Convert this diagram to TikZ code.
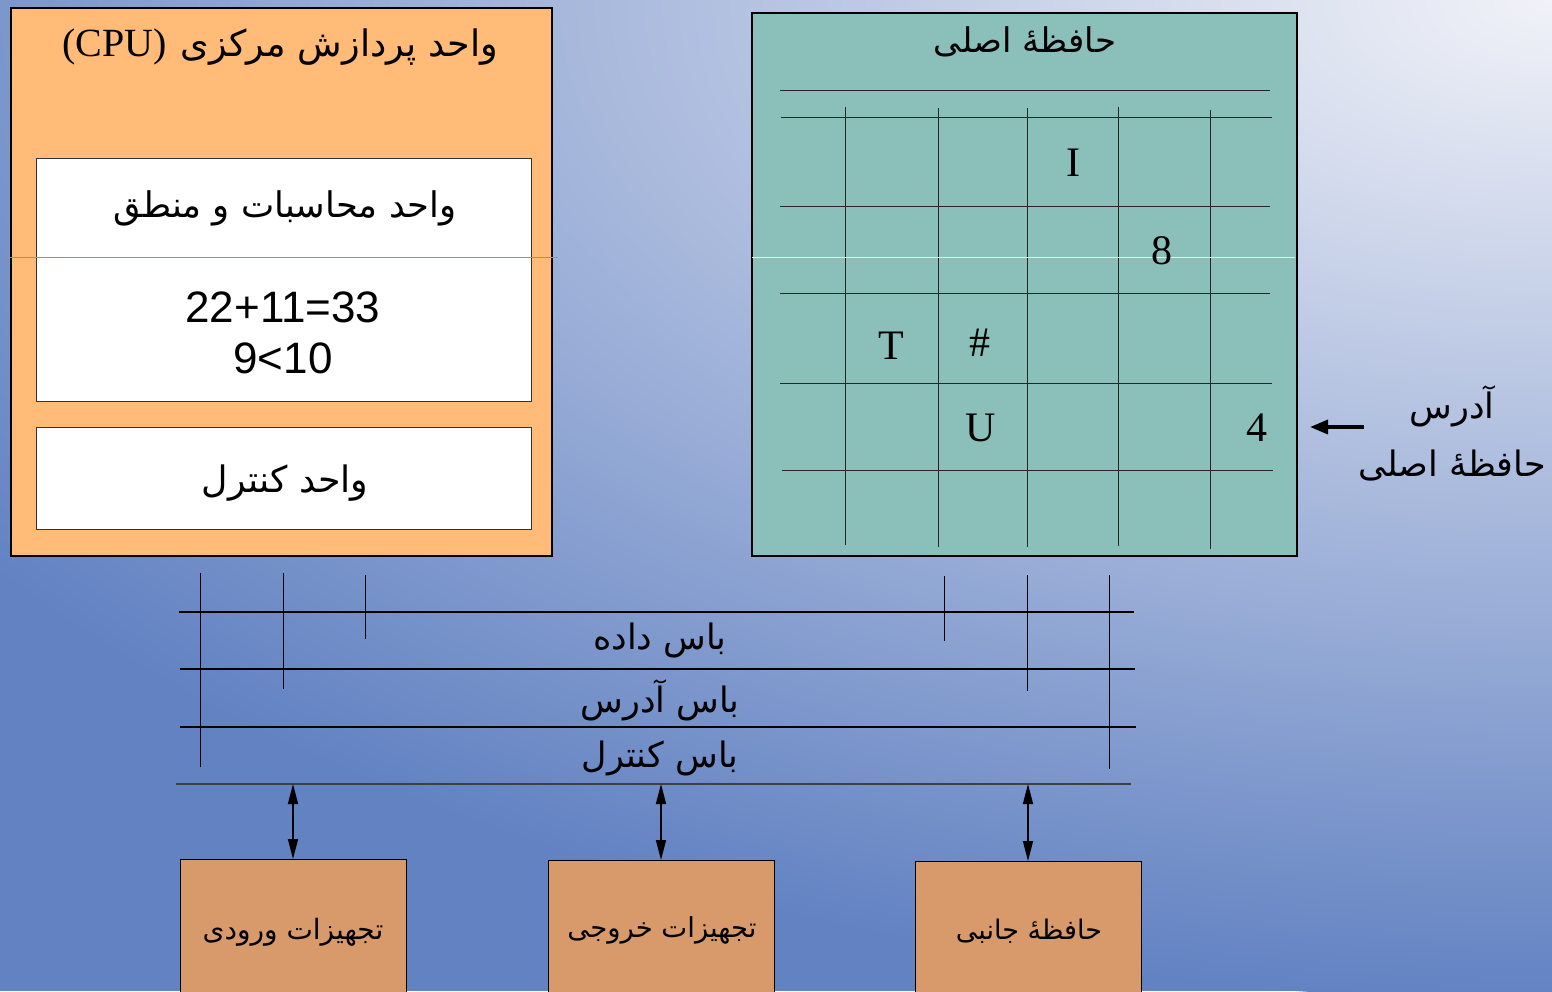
\documentclass[tikz,border=0pt]{standalone}
\usepackage{fontspec}
\usetikzlibrary{arrows.meta}
\TeXXeTstate=1
\newfontfamily\arfont[Script=Arabic]{DejaVu Sans}
\newfontfamily\tnr{Liberation Serif}
\newfontfamily\ari{Liberation Sans}
\definecolor{bgin}{HTML}{F1F2F8}
\definecolor{bgout}{HTML}{6282C2}
\definecolor{cpufill}{HTML}{FFBB77}
\definecolor{memfill}{HTML}{8BBFBA}
\definecolor{devfill}{HTML}{D89A6A}
\tikzset{
  outerbox/.style={draw=black, line width=1.5pt, inner sep=0pt},
  whitebox/.style={draw=black!80, line width=1pt, fill=white, inner sep=0pt},
  devbox/.style={draw=black, line width=1.2pt, fill=devfill, inner sep=0pt, minimum width=226, minimum height=150, anchor=north west},
  gridline/.style={line width=1pt, color=black!85},
  busline/.style={line width=1.2pt, color=black},
  cell/.style={inner sep=0pt, font=\fontsize{42}{42}\selectfont\tnr},
  artext/.style={inner sep=0pt, font=\fontsize{#1}{#1}\selectfont\arfont},
  dbl/.style={line width=1.5pt, {Triangle[length=20pt,width=10pt]}-{Triangle[length=20pt,width=10pt]}},
  addrarrow/.style={line width=3.5pt, -{Triangle[length=18pt,width=14pt]}},
}
\begin{document}
\begin{tikzpicture}[x=1pt,y=-1pt]
\useasboundingbox (0,0) rectangle (1552,991);
\clip (0,0) rectangle (1552,991);
% background
\fill[bgout] (0,0) rectangle (1552,991);
\shade[inner color=bgin, outer color=bgout] (1552,0) ellipse [x radius=1900, y radius=1000];

% CPU
\node[outerbox, fill=cpufill, minimum width=541, minimum height=548, anchor=north west] (cpu) at (10,7) {};
\node[inner sep=0pt] (cputitle) at (280,47) {{\fontsize{40}{40}\selectfont\tnr (CPU)}\hspace{14pt}{\fontsize{36.5}{36.5}\selectfont\arfont\beginR واحد پردازش مرکزی\endR}};
\node[whitebox, minimum width=495, minimum height=243, anchor=north west] (alu) at (36,158) {};
\node[artext=35.3] (alutitle) at (285,208) {\beginR واحد محاسبات و منطق\endR};
\node[inner sep=0pt, align=center, font=\fontsize{44}{51}\selectfont\ari] (aluops) at (283,333) {22+11=33\\9<10};
\node[whitebox, minimum width=495, minimum height=102, anchor=north west] (cu) at (36,427) {};
\node[artext=36.4] (cutitle) at (285,483) {\beginR واحد کنترل\endR};
\draw[line width=0.8pt, color=bgout!85!white] (10,257) -- (558,257);

% Main memory
\node[outerbox, fill=memfill, minimum width=545, minimum height=543, anchor=north west] (mem) at (751,12) {};
\node[artext=34] (memtitle) at (1025,42) {\beginR حافظهٔ اصلی\endR};
\draw[gridline] (780,90) -- (1270,90);
\draw[gridline] (781,117) -- (1272,117);
\draw[gridline] (780,206) -- (1270,206);
\draw[gridline] (780,293) -- (1270,293);
\draw[gridline] (780,383) -- (1272,383);
\draw[gridline] (782,470) -- (1273,470);
\draw[gridline] (845,107) -- (845,545);
\draw[gridline] (938,108) -- (938,547);
\draw[gridline] (1027,108) -- (1027,547);
\draw[gridline] (1118,107) -- (1118,546);
\draw[gridline] (1210,110) -- (1210,549);
\draw[line width=0.8pt, color=white!75!memfill] (752,257) -- (1295,257);
\node[cell] (cI) at (1073,163) {I};
\node[cell] (c8) at (1162,251) {8};
\node[cell] (cT) at (891,346) {T};
\node[cell] (cH) at (980,343) {\#};
\node[cell] (cU) at (981,428) {U};
\node[cell] (c4) at (1257,428) {4};

% address label
\node[inner sep=0pt, align=center, font=\fontsize{35}{58}\selectfont\arfont] (addr) at (1452,433) {\beginR آدرس\endR\\\beginR حافظهٔ اصلی\endR};
\coordinate (arrstart) at (1364,427);
\coordinate (arrtip) at (1310,427);
\draw[addrarrow] (arrstart) -- (arrtip);

% buses
\draw[busline] (179,612) -- (1134,612);
\draw[busline] (180,669) -- (1135,669);
\draw[busline] (180,727) -- (1136,727);
\draw[line width=2pt, color=black!75] (176,784) -- (1131,784);
\draw[busline, line width=1pt] (200,573) -- (200,767);
\draw[busline, line width=1pt] (283,573) -- (283,689);
\draw[busline, line width=1pt] (365,575) -- (365,639);
\draw[busline, line width=1pt] (944,576) -- (944,641);
\draw[busline, line width=1pt] (1027,575) -- (1027,691);
\draw[busline, line width=1pt] (1109,575) -- (1109,769);
\node[artext=35] (busdata) at (660,640) {\beginR باس داده\endR};
\node[artext=35] (busaddr) at (660,700) {\beginR باس آدرس\endR};
\node[artext=35] (busctrl) at (660,758) {\beginR باس کنترل\endR};

% devices
\node[devbox] (dev1) at (180,859) {};
\node[devbox] (dev2) at (548,860) {};
\node[devbox] (dev3) at (915,861) {};
\node[artext=28] (dev1t) at (293,932) {\beginR تجهیزات ورودی\endR};
\node[artext=27.5] (dev2t) at (662,930) {\beginR تجهیزات خروجی\endR};
\node[artext=27] (dev3t) at (1029,931) {\beginR حافظهٔ جانبی\endR};
\coordinate (bus1) at (293,784);
\coordinate (bus2) at (661,784);
\coordinate (bus3) at (1028,784);
\draw[dbl] (bus1) -- (bus1 |- dev1.north);
\draw[dbl] (bus2) -- (bus2 |- dev2.north);
\draw[dbl] (bus3) -- (bus3 |- dev3.north);
\end{tikzpicture}
\end{document}
